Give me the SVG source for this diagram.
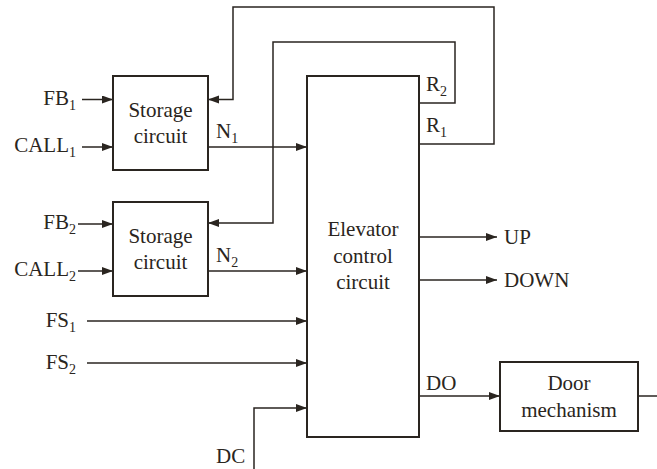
<svg xmlns="http://www.w3.org/2000/svg" width="657" height="469" viewBox="0 0 657 469">
<style>
.box{fill:none;stroke:#2a2520;stroke-width:2}
.w{fill:none;stroke:#2a2520;stroke-width:1.5}
.a{marker-end:url(#ah)}
text{font-family:"Liberation Serif","Times New Roman",serif;font-size:21px;fill:#2a2520}
.s{font-size:14px}
.c{text-anchor:middle}
.e{text-anchor:end}
</style>
<defs>
<marker id="ah" markerUnits="userSpaceOnUse" markerWidth="12" markerHeight="10" refX="11" refY="4" orient="auto">
<path d="M0,0 L11,4 L0,8 Z" fill="#2a2520"/>
</marker>
</defs>
<rect width="657" height="469" fill="#fff"/>
<g id="connectors">
<path class="w a" d="M82,99.5 H113"/>
<path class="w a" d="M82,147 H113"/>
<path class="w a" d="M78,224 H113"/>
<path class="w a" d="M78,271 H113"/>
<path class="w a" d="M208,147 H307"/>
<path class="w a" d="M208,271 H307"/>
<path class="w a" d="M87,321 H307"/>
<path class="w a" d="M87,363 H307"/>
<path class="w a" d="M254,469 V408 H307"/>
<path class="w a" d="M419,144 H494 V7 H233 V99.5 H208"/>
<path class="w a" d="M419,103 H455 V42 H273 V223 H208"/>
<path class="w a" d="M419,237 H497"/>
<path class="w a" d="M419,280 H497"/>
<path class="w a" d="M419,396 H500"/>
<path class="w" d="M638,396 H657"/>
</g>
<g id="storage1">
<rect class="box" x="113" y="76" width="95" height="94"/>
<text class="c" x="160.5" y="117">Storage</text>
<text class="c" x="160.5" y="143">circuit</text>
</g>
<g id="storage2">
<rect class="box" x="113" y="202" width="95" height="94"/>
<text class="c" x="160.5" y="243">Storage</text>
<text class="c" x="160.5" y="269">circuit</text>
</g>
<g id="elevator">
<rect class="box" x="307" y="76" width="112" height="361"/>
<text class="c" x="363" y="236">Elevator</text>
<text class="c" x="363" y="263">control</text>
<text class="c" x="363" y="289">circuit</text>
</g>
<g id="door">
<rect class="box" x="500" y="362" width="138" height="69"/>
<text class="c" x="569" y="390">Door</text>
<text class="c" x="569" y="417">mechanism</text>
</g>
<g id="labels">
<text class="e" x="76" y="105">FB<tspan class="s" dy="5">1</tspan></text>
<text class="e" x="76" y="152">CALL<tspan class="s" dy="5">1</tspan></text>
<text class="e" x="76" y="229">FB<tspan class="s" dy="5">2</tspan></text>
<text class="e" x="76" y="276">CALL<tspan class="s" dy="5">2</tspan></text>
<text class="e" x="76" y="327">FS<tspan class="s" dy="5">1</tspan></text>
<text class="e" x="76" y="369">FS<tspan class="s" dy="5">2</tspan></text>
<text x="216" y="463">DC</text>
<text x="216" y="138">N<tspan class="s" dy="5">1</tspan></text>
<text x="216" y="262">N<tspan class="s" dy="5">2</tspan></text>
<text x="426" y="91">R<tspan class="s" dy="5">2</tspan></text>
<text x="426" y="132">R<tspan class="s" dy="5">1</tspan></text>
<text x="504" y="244">UP</text>
<text x="504" y="287">DOWN</text>
<text x="426" y="390">DO</text>
</g>
</svg>
